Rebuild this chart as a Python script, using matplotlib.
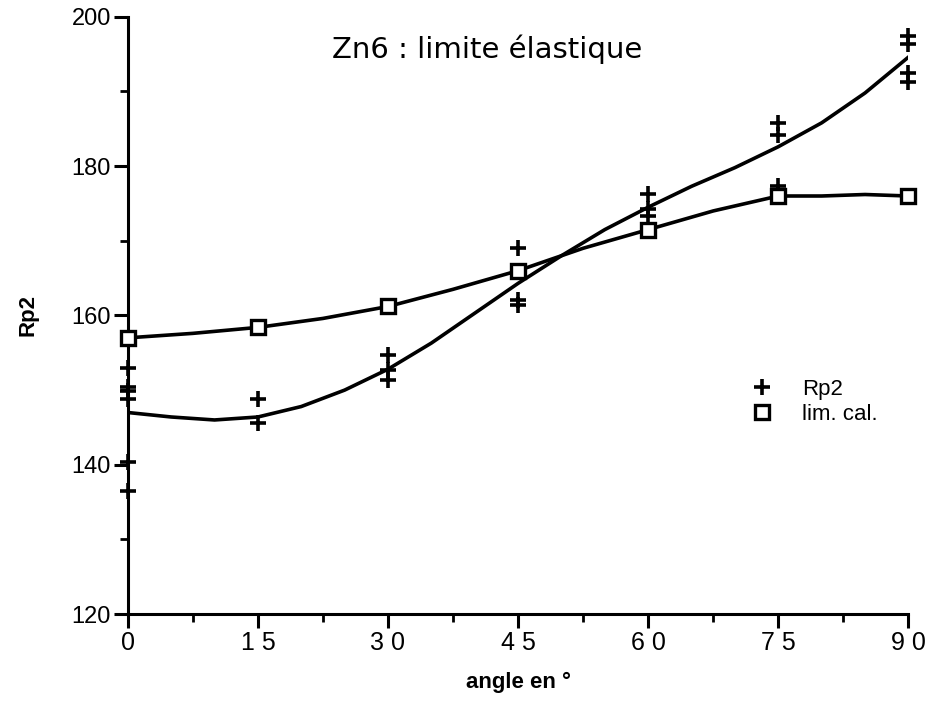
import numpy as np
import matplotlib.pyplot as plt
from matplotlib.ticker import MultipleLocator

plt.rcParams['font.family'] = ['Liberation Sans', 'DejaVu Sans']

# mesures Rp2 (plusieurs eprouvettes par angle)
rp2_x = [0, 0, 0, 0, 0, 0,
         15, 15,
         30, 30, 30,
         45, 45, 45,
         60, 60, 60,
         75, 75, 75,
         90, 90, 90, 90]
rp2_y = [153.0, 150.4, 149.9, 148.8, 140.4, 136.5,
         148.8, 145.6,
         154.7, 152.7, 151.4,
         169.0, 162.1, 161.4,
         176.3, 174.2, 173.3,
         185.8, 184.2, 177.3,
         197.4, 196.3, 192.5, 191.3]

# limite calculee
cal_x = [0, 15, 30, 45, 60, 75, 90]
cal_y = [157.0, 158.4, 161.2, 166.0, 171.5, 176.0, 176.0]

# courbes lissees
fit_x = [0, 5, 10, 15, 20, 25, 30, 35, 40, 45, 50, 55, 60, 65, 70, 75, 80, 85, 90]
fit_rp2 = [147.0, 146.4, 146.0, 146.4, 147.8, 150.0, 152.8, 156.3, 160.3, 164.3,
           168.0, 171.5, 174.5, 177.3, 179.8, 182.6, 185.8, 189.8, 194.6]
fitc_x = [0, 7.5, 15, 22.5, 30, 37.5, 45, 52.5, 60, 67.5, 75, 80, 85, 90]
fitc_y = [157.0, 157.6, 158.4, 159.6, 161.2, 163.5, 166.0, 169.0, 171.5, 174.0,
          176.0, 176.0, 176.2, 176.0]

fig = plt.figure(figsize=(9.26, 7.01), dpi=100)
ax = fig.add_axes([0.138, 0.124, 0.843, 0.852])

ax.plot(fit_x, fit_rp2, color='black', lw=2.6, zorder=2)
ax.plot(fitc_x, fitc_y, color='black', lw=2.6, zorder=2)
h1, = ax.plot(rp2_x, rp2_y, ls='none', marker='+', ms=12, mew=2.6,
              color='black', zorder=3, clip_on=False)
h2, = ax.plot(cal_x, cal_y, ls='none', marker='s', ms=10, mew=2.4,
              mfc='white', mec='black', zorder=4, clip_on=False)

ax.set_xlim(0, 90)
ax.set_ylim(120, 200)
for s in ['top', 'right']:
    ax.spines[s].set_visible(False)
for s in ['left', 'bottom']:
    ax.spines[s].set_linewidth(2.2)

ax.xaxis.set_major_locator(MultipleLocator(15))
ax.xaxis.set_minor_locator(MultipleLocator(7.5))
ax.yaxis.set_major_locator(MultipleLocator(20))
ax.yaxis.set_minor_locator(MultipleLocator(10))
ax.tick_params(which='major', length=10, width=2.2)
ax.tick_params(which='minor', length=6, width=2.0)
ax.tick_params(axis='y', labelsize=17, pad=2)
ax.tick_params(axis='x', labelsize=18, pad=2)
ax.set_xticks([0, 15, 30, 45, 60, 75, 90])
ax.set_xticklabels(['0', '1 5', '3 0', '4 5', '6 0', '7 5', '9 0'])

ax.set_xlabel('angle en °', fontsize=16, fontweight='bold', labelpad=12)
ax.set_ylabel('Rp2', fontsize=16, fontweight='bold', labelpad=24)
ax.text(0.46, 0.945, 'Zn6 : limite élastique', transform=ax.transAxes,
        fontsize=21, ha='center', va='center', family=['DejaVu Sans'])

ax.legend(handles=[h1, h2], labels=['Rp2', 'lim. cal.'], loc='center left',
          bbox_to_anchor=(0.77, 0.355), frameon=False, fontsize=16,
          handlelength=1.2, handletextpad=1.2, labelspacing=0.2)

fig.savefig('out.png', dpi=100)
